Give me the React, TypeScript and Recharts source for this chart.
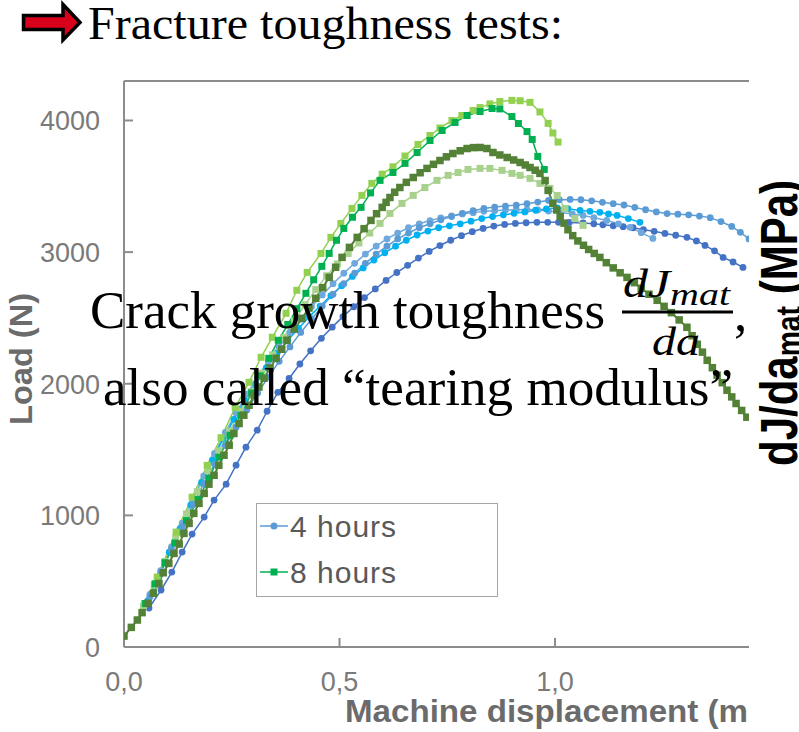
import React from 'react';
import { LineChart, Line, XAxis, YAxis, ReferenceLine, Legend } from 'recharts';

// ---------- data (Machine displacement in mm, Load in N) ----------
// 4 hours specimens
const H4_A: number[][] = [
  [0.06, 380], [0.085, 560], [0.11, 740], [0.135, 910], [0.16, 1080], [0.185, 1240], [0.21, 1390], [0.235, 1530],
  [0.26, 1670], [0.285, 1800], [0.31, 1930], [0.335, 2050], [0.36, 2170], [0.385, 2280], [0.41, 2390], [0.435, 2490],
  [0.46, 2590], [0.485, 2680], [0.51, 2760], [0.535, 2840], [0.56, 2915], [0.585, 2985], [0.61, 3045], [0.635, 3100],
  [0.66, 3145], [0.685, 3185], [0.71, 3215], [0.735, 3245], [0.76, 3270], [0.785, 3295], [0.81, 3315], [0.835, 3332],
  [0.86, 3342], [0.885, 3350], [0.91, 3357], [0.935, 3368], [0.96, 3380], [0.985, 3393], [1.01, 3398], [1.035, 3400],
  [1.06, 3398], [1.085, 3390], [1.11, 3378], [1.135, 3368], [1.16, 3358], [1.185, 3340], [1.21, 3322], [1.235, 3305],
  [1.26, 3293], [1.285, 3288], [1.31, 3283], [1.335, 3274], [1.36, 3262], [1.385, 3232], [1.41, 3195], [1.43, 3150],
  [1.45, 3100],
];
const H4_B: number[][] = [
  [0.058, 296], [0.086, 433], [0.111, 569], [0.135, 721], [0.158, 858], [0.186, 987], [0.209, 1116], [0.237, 1237],
  [0.26, 1381], [0.283, 1518], [0.309, 1647], [0.332, 1791], [0.357, 1935], [0.383, 2040], [0.408, 2150], [0.433, 2250],
  [0.458, 2345], [0.483, 2430], [0.508, 2510], [0.533, 2585], [0.558, 2655], [0.583, 2720], [0.608, 2785], [0.633, 2845],
  [0.658, 2900], [0.683, 2955], [0.708, 3005], [0.733, 3050], [0.758, 3090], [0.783, 3125], [0.808, 3155], [0.833, 3180],
  [0.858, 3198], [0.883, 3210], [0.908, 3218], [0.933, 3223], [0.958, 3226], [0.983, 3226], [1.008, 3226], [1.033, 3225],
  [1.065, 3222], [1.09, 3215], [1.111, 3208], [1.135, 3200], [1.158, 3193], [1.181, 3185], [1.205, 3170], [1.23, 3158],
  [1.255, 3142], [1.28, 3128], [1.306, 3112], [1.328, 3085], [1.348, 3051], [1.37, 3010], [1.39, 2960], [1.413, 2925],
  [1.436, 2884],
];
const H4_C: number[][] = [
  [0.055, 350], [0.08, 530], [0.105, 720], [0.13, 900], [0.155, 1080], [0.18, 1250], [0.205, 1420], [0.23, 1580],
  [0.255, 1730], [0.28, 1870], [0.305, 2000], [0.33, 2120], [0.355, 2230], [0.38, 2330], [0.405, 2420], [0.43, 2510],
  [0.455, 2590], [0.48, 2670], [0.505, 2745], [0.53, 2815], [0.555, 2880], [0.58, 2940], [0.605, 2995], [0.63, 3045],
  [0.655, 3090], [0.68, 3130], [0.705, 3160], [0.73, 3185], [0.755, 3200], [0.78, 3215], [0.805, 3235], [0.83, 3255],
  [0.855, 3270], [0.88, 3283], [0.905, 3295], [0.93, 3305], [0.955, 3318], [0.98, 3328], [1.005, 3335], [1.03, 3330],
  [1.058, 3317], [1.081, 3310], [1.104, 3302], [1.124, 3290], [1.144, 3279], [1.17, 3255], [1.197, 3226],
];
const H4_D: number[][] = [
  [0.06, 400], [0.085, 580], [0.11, 760], [0.135, 940], [0.16, 1120], [0.185, 1300], [0.21, 1470], [0.235, 1630],
  [0.26, 1780], [0.285, 1920], [0.31, 2050], [0.335, 2170], [0.36, 2280], [0.385, 2390], [0.41, 2490], [0.435, 2585],
  [0.46, 2675], [0.485, 2760], [0.51, 2840], [0.535, 2915], [0.56, 2985], [0.585, 3045], [0.61, 3100], [0.635, 3145],
  [0.66, 3185], [0.685, 3215], [0.71, 3240], [0.735, 3260], [0.76, 3275], [0.785, 3290], [0.81, 3300], [0.835, 3310],
  [0.86, 3315], [0.885, 3320], [0.91, 3322], [0.935, 3323], [0.96, 3320], [0.985, 3312], [1.01, 3302], [1.04, 3290],
  [1.065, 3279], [1.09, 3262], [1.12, 3241], [1.147, 3215], [1.174, 3188], [1.2, 3148], [1.227, 3104],
];

// 8 hours specimens
const H8_A: number[][] = [
  [0.048, 330], [0.077, 531], [0.121, 873], [0.158, 1138], [0.193, 1380], [0.225, 1590], [0.258, 1820], [0.29, 2011],
  [0.318, 2201], [0.344, 2353], [0.376, 2535], [0.401, 2710], [0.425, 2846], [0.457, 2990], [0.48, 3112], [0.503, 3218],
  [0.529, 3332], [0.552, 3431], [0.575, 3522], [0.599, 3592], [0.624, 3648], [0.652, 3730], [0.682, 3818], [0.71, 3886],
  [0.733, 3943], [0.761, 4000], [0.784, 4038], [0.81, 4076], [0.826, 4098], [0.849, 4126], [0.872, 4144], [0.9, 4153],
  [0.919, 4150], [0.942, 4138], [0.965, 4065], [0.984, 3978], [0.995, 3905], [1.007, 3836],
];
const H8_B: number[][] = [
  [0.05, 330], [0.072, 480], [0.095, 640], [0.118, 790], [0.145, 960], [0.172, 1120], [0.197, 1283], [0.22, 1442],
  [0.246, 1609], [0.271, 1761], [0.296, 1930], [0.316, 2060], [0.336, 2193], [0.358, 2330], [0.38, 2450], [0.401, 2570],
  [0.422, 2687], [0.44, 2790], [0.459, 2892], [0.476, 2990], [0.493, 3090], [0.51, 3180], [0.53, 3265], [0.55, 3340],
  [0.572, 3450], [0.594, 3545], [0.624, 3605], [0.652, 3674], [0.68, 3757], [0.71, 3848], [0.738, 3924], [0.768, 3985],
  [0.796, 4038], [0.826, 4068], [0.854, 4091], [0.872, 4088], [0.9, 4030], [0.915, 3977], [0.935, 3916], [0.947, 3856],
  [0.96, 3727], [0.975, 3628],
];
const H8_C: number[][] = [
  [0.0, 83], [0.017, 149], [0.031, 205], [0.042, 261], [0.056, 332], [0.068, 408], [0.081, 483], [0.091, 564],
  [0.104, 635], [0.116, 711], [0.128, 782], [0.139, 863], [0.151, 939], [0.162, 1015], [0.174, 1091], [0.186, 1167],
  [0.197, 1237], [0.209, 1305], [0.22, 1381], [0.232, 1457], [0.244, 1533], [0.255, 1622], [0.267, 1698], [0.278, 1761],
  [0.29, 1837], [0.302, 1913], [0.313, 1975], [0.325, 2042], [0.339, 2120], [0.353, 2194], [0.366, 2262], [0.378, 2330],
  [0.395, 2415], [0.413, 2497], [0.429, 2575], [0.445, 2649], [0.461, 2730], [0.476, 2808], [0.491, 2885], [0.506, 2960],
  [0.523, 3036], [0.541, 3112], [0.557, 3178], [0.573, 3241], [0.586, 3292], [0.599, 3340], [0.608, 3378], [0.617, 3415],
  [0.628, 3455], [0.64, 3491], [0.655, 3530], [0.671, 3567], [0.687, 3603], [0.703, 3636], [0.718, 3667], [0.733, 3696],
  [0.748, 3724], [0.763, 3749], [0.78, 3770], [0.796, 3787], [0.811, 3794], [0.826, 3795], [0.842, 3787], [0.856, 3757],
  [0.872, 3738], [0.889, 3719], [0.904, 3700], [0.919, 3681], [0.931, 3662], [0.942, 3643], [0.954, 3622], [0.965, 3598],
  [0.977, 3544], [0.984, 3469], [0.995, 3370], [1.004, 3320], [1.012, 3270], [1.021, 3220], [1.03, 3170], [1.041, 3125],
  [1.053, 3085], [1.066, 3052], [1.078, 3020], [1.091, 2990], [1.104, 2960], [1.119, 2920], [1.135, 2880], [1.151, 2843],
  [1.167, 2808], [1.184, 2768], [1.2, 2725], [1.218, 2680], [1.237, 2634], [1.253, 2588], [1.27, 2540], [1.288, 2485],
  [1.306, 2429], [1.318, 2365], [1.33, 2300], [1.342, 2240], [1.353, 2178], [1.365, 2122], [1.376, 2065], [1.388, 2008],
  [1.399, 1951], [1.41, 1900], [1.42, 1850], [1.433, 1797], [1.445, 1746],
];
const H8_D: number[][] = [
  [0.045, 310], [0.07, 470], [0.095, 650], [0.12, 830], [0.145, 1010], [0.17, 1180], [0.195, 1340], [0.22, 1490],
  [0.245, 1640], [0.27, 1790], [0.295, 1940], [0.32, 2080], [0.345, 2220], [0.37, 2350], [0.395, 2480], [0.42, 2600],
  [0.445, 2715], [0.47, 2820], [0.495, 2910], [0.52, 2990], [0.545, 3070], [0.57, 3145], [0.594, 3218], [0.617, 3294],
  [0.645, 3370], [0.671, 3431], [0.698, 3491], [0.726, 3545], [0.752, 3583], [0.775, 3605], [0.798, 3628], [0.826, 3636],
  [0.849, 3636], [0.877, 3621], [0.9, 3598], [0.919, 3583], [0.942, 3560], [0.965, 3522], [0.988, 3484], [1.005, 3430],
  [1.023, 3332], [1.046, 3256], [1.065, 3203],
];

const X_TICKS = [0, 0.5, 1.0];
const X_TICK_LABELS = ['0,0', '0,5', '1,0'];
const Y_TICKS = [0, 1000, 2000, 3000, 4000];
const X_DOMAIN = [0, 1.45];
const Y_DOMAIN = [0, 4300];

const LEGEND_ITEMS = [
  { label: '4 hours', color: '#5b9bd5', marker: 'circle' },
  { label: '8 hours', color: '#00b050', marker: 'square' },
];

const X_TITLE = 'Machine displacement (m';
const Y_TITLE = 'Load (N)';

// ---------- styles ----------
const AXIS_COLOR = '#8c8c8c';
const TICK_COLOR = '#7a7a7a';
const TITLE_COLOR = '#6b6b6b';
const SANS = '"Liberation Sans", Arial, sans-serif';
const SERIF = '"Liberation Serif", "Times New Roman", serif';

const toPts = (arr: number[][]) => arr.map(([x, y]) => ({ x, y }));

const circleDot = (color: string, r: number) => (props: any) => {
  const { cx, cy, index } = props;
  if (cx == null || cy == null) return <g key={`c${index}`} />;
  return <circle key={`c${index}`} cx={cx} cy={cy} r={r} fill={color} stroke="none" />;
};
const squareDot = (color: string, s: number) => (props: any) => {
  const { cx, cy, index } = props;
  if (cx == null || cy == null) return <g key={`s${index}`} />;
  return <rect key={`s${index}`} x={cx - s / 2} y={cy - s / 2} width={s} height={s} fill={color} stroke="none" />;
};

const YTick = (props: any) => {
  const { x, y, payload } = props;
  return (
    <g>
      <line x1={x} y1={y} x2={x + 9} y2={y} stroke={AXIS_COLOR} strokeWidth={2} />
      <text x={x - 24} y={y} dy={10} textAnchor="end" fontSize={27} fill={TICK_COLOR} fontFamily={SANS}>
        {payload.value}
      </text>
    </g>
  );
};

const XTick = (props: any) => {
  const { x, y, payload } = props;
  const i = X_TICKS.indexOf(payload.value);
  return (
    <g>
      {payload.value !== 0 && <line x1={x} y1={y} x2={x} y2={y - 9} stroke={AXIS_COLOR} strokeWidth={2} />}
      <text x={x} y={y + 44} textAnchor="middle" fontSize={27} fill={TICK_COLOR} fontFamily={SANS}>
        {i >= 0 ? X_TICK_LABELS[i] : String(payload.value)}
      </text>
    </g>
  );
};

const LegendBox = () => (
  <div style={{ width: 242, height: 94, border: '1.5px solid #a6a6a6', boxSizing: 'border-box', background: '#fff' }}>
    <svg width={240} height={92}>
      {LEGEND_ITEMS.map((it, i) => {
        const cy = 22 + i * 46;
        return (
          <g key={it.label}>
            <line x1={3} x2={31} y1={cy} y2={cy} stroke={it.color} strokeWidth={1.5} />
            {it.marker === 'circle' ? (
              <circle cx={17} cy={cy} r={3.5} fill={it.color} />
            ) : (
              <rect x={13.5} y={cy - 3.5} width={7} height={7} fill={it.color} />
            )}
            <text x={33} y={cy + 11} fontSize={30} letterSpacing={1} fill="#595959" fontFamily={SANS}>
              {it.label}
            </text>
          </g>
        );
      })}
    </svg>
  </div>
);

type S = { key: string; data: number[][]; color: string; kind: 'c' | 's'; size: number; width: number };
const SERIES: S[] = [
  { key: 'h4b', data: H4_B, color: '#4472c4', kind: 'c', size: 3.4, width: 1.5 },
  { key: 'h4d', data: H4_D, color: '#6fa8dc', kind: 'c', size: 3.4, width: 1.5 },
  { key: 'h4c', data: H4_C, color: '#00b0f0', kind: 'c', size: 3.4, width: 1.5 },
  { key: 'h4a', data: H4_A, color: '#5b9bd5', kind: 'c', size: 3.4, width: 1.5 },
  { key: 'h8d', data: H8_D, color: '#a9d18e', kind: 's', size: 7, width: 1.5 },
  { key: 'h8a', data: H8_A, color: '#92d050', kind: 's', size: 7, width: 1.5 },
  { key: 'h8b', data: H8_B, color: '#00b050', kind: 's', size: 7, width: 1.5 },
  { key: 'h8c', data: H8_C, color: '#538135', kind: 's', size: 7.5, width: 2 },
];

export default function App() {
  return (
    <div style={{ position: 'absolute', left: 0, top: 0, width: 799, height: 732, background: '#fff', overflow: 'hidden' }}>
      <LineChart width={799} height={732} margin={{ top: 81, right: 50, bottom: 0, left: 0 }}>
        <XAxis
          type="number"
          dataKey="x"
          domain={X_DOMAIN}
          ticks={X_TICKS}
          interval={0}
          allowDataOverflow
          height={85}
          tickSize={0}
          tickMargin={0}
          tickLine={false}
          tick={<XTick />}
          axisLine={{ stroke: AXIS_COLOR, strokeWidth: 2 }}
        />
        <YAxis
          type="number"
          dataKey="y"
          domain={Y_DOMAIN}
          ticks={Y_TICKS}
          interval={0}
          allowDataOverflow
          width={124}
          tickSize={0}
          tickMargin={0}
          tickLine={false}
          tick={<YTick />}
          axisLine={{ stroke: AXIS_COLOR, strokeWidth: 2 }}
        />
        <ReferenceLine y={Y_DOMAIN[1]} stroke={AXIS_COLOR} strokeWidth={2} />
        {SERIES.map((s) => (
          <Line
            key={s.key}
            data={toPts(s.data)}
            dataKey="y"
            type="linear"
            stroke={s.color}
            strokeWidth={s.width}
            dot={s.kind === 'c' ? circleDot(s.color, s.size) : squareDot(s.color, s.size)}
            activeDot={false}
            isAnimationActive={false}
            legendType="none"
          />
        ))}
        <Legend
          layout="vertical"
          align="center"
          verticalAlign="middle"
          content={<LegendBox />}
          wrapperStyle={{ position: 'absolute', left: 256, top: 503, width: 242, height: 94 }}
        />
      </LineChart>

      <svg width={799} height={732} style={{ position: 'absolute', left: 0, top: 0, pointerEvents: 'none' }}>
        {/* slide title with arrow */}
        <polygon
          points="23.5,15.5 63,15.5 63,4.5 80,22.5 63,40 63,29.5 23.5,29.5"
          fill="#d9001b"
          stroke="#000"
          strokeWidth={3.5}
          strokeLinejoin="miter"
        />
        <text x={88} y={39} fontSize={46} fontFamily={SERIF} fill="#000" textLength={475} lengthAdjust="spacingAndGlyphs">
          Fracture toughness tests:
        </text>

        {/* axis titles */}
        <text
          transform="translate(32,359) rotate(-90)"
          textAnchor="middle"
          fontSize={32}
          fontWeight="bold"
          fill={TITLE_COLOR}
          fontFamily={SANS}
          textLength={132}
          lengthAdjust="spacingAndGlyphs"
        >
          {Y_TITLE}
        </text>
        <text x={345} y={722} fontSize={32} fontWeight="bold" fill={TITLE_COLOR} fontFamily={SANS} textLength={403} lengthAdjust="spacingAndGlyphs">
          {X_TITLE}
        </text>

        {/* secondary axis title */}
        <text
          transform="translate(797,466) rotate(-90) scale(1,1.3)"
          fontSize={40}
          fontWeight="bold"
          fill="#000"
          fontFamily={SANS}
          textLength={286}
          lengthAdjust="spacingAndGlyphs"
        >
          dJ/da<tspan fontSize={27} dy={3}>mat</tspan>
          <tspan dy={-3}> (MPa)</tspan>
        </text>

        {/* overlaid annotation */}
        <text x={90} y={328} fontSize={53} fontFamily={SERIF} fill="#000" textLength={515} lengthAdjust="spacingAndGlyphs">
          Crack growth toughness
        </text>
        <text x={623} y={297} fontSize={40} fontStyle="italic" fontFamily={SERIF} fill="#000" textLength={107} lengthAdjust="spacingAndGlyphs">
          dJ<tspan fontSize={32} dy={8}>mat</tspan>
        </text>
        <line x1={622} x2={733} y1={312} y2={312} stroke="#000" strokeWidth={3} />
        <text x={676} y={355} textAnchor="middle" fontSize={40} fontStyle="italic" fontFamily={SERIF} fill="#000" textLength={48} lengthAdjust="spacingAndGlyphs">
          da
        </text>
        <text x={734} y={330} fontSize={53} fontFamily={SERIF} fill="#000">,</text>
        <text x={103} y={405} fontSize={53} fontFamily={SERIF} fill="#000" textLength={630} lengthAdjust="spacingAndGlyphs">
          also called “tearing modulus”
        </text>
      </svg>
    </div>
  );
}
